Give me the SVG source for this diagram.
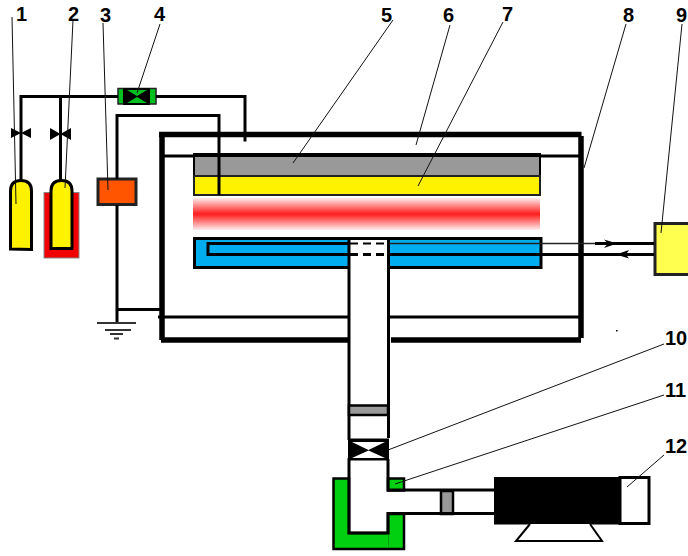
<svg xmlns="http://www.w3.org/2000/svg" width="688" height="556" viewBox="0 0 688 556">
<style>
.l{fill:none;stroke:#000;stroke-width:3}
.t{fill:none;stroke:#000;stroke-width:4}
.w{fill:none;stroke:#000;stroke-width:5.500}
.b{fill:#000;stroke:none}
.s{fill:none;stroke:#111;stroke-width:1}
.g{fill:none;stroke:#333}
text{font-family:"Liberation Sans",Arial,sans-serif;font-weight:bold;font-size:20px;fill:#000}
</style>
<defs>
<linearGradient id="glow" x1="0" y1="0" x2="0" y2="1">
<stop offset="0" stop-color="#ff1c1c" stop-opacity="0.08"/>
<stop offset="0.5" stop-color="#ff1c1c"/>
<stop offset="1" stop-color="#ff1c1c" stop-opacity="0.08"/>
</linearGradient>
</defs>
<rect width="688" height="556" fill="#fff"/>

<g id="node-heater-glow"><rect x="193" y="198" width="347" height="32" fill="url(#glow)"/></g>
<g id="node-5"><rect x="194" y="156" width="346" height="20" fill="#999" stroke="#000" stroke-width="2"/><path d="M193 155H541" class="t"/></g>
<g id="node-7"><rect x="194" y="176" width="346" height="19" fill="#fff200" stroke="#222" stroke-width="2"/></g>
<g id="node-substrate"><rect x="194.500" y="238.500" width="346.500" height="29" fill="#00aeef" stroke="#000" stroke-width="3"/></g>
<g id="node-column"><rect x="349" y="240" width="39" height="200" fill="#fff"/></g>
<g id="node-2-bath"><rect x="44" y="192.500" width="35" height="65.500" fill="#f00000" stroke="#888" stroke-width="1"/></g>
<g id="node-1"><path d="M10.500 249V191Q10.500 180.500 21 180.500Q31.500 180.500 31.500 191V249.500Z" fill="#fff200" stroke="#000" stroke-width="3"/></g>
<g id="node-2"><path d="M51 248.500V191Q51 180.500 61.500 180.500Q72 180.500 72 191V248.500Z" fill="#fff200" stroke="#000" stroke-width="3"/></g>
<g id="node-3"><rect x="98" y="179" width="38" height="25.500" fill="#ff5500" stroke="#222" stroke-width="3"/></g>
<g id="node-9"><rect x="655" y="223.500" width="40" height="51" fill="#ffff50" stroke="#222" stroke-width="3"/></g>
<g id="node-trap">
<path d="M333.500 478.500H349V533H388V514H404V549H333.500Z" fill="#00d010" stroke="#000" stroke-width="2.500"/>
<path d="M388 478.500H404V490.500H388Z" fill="#00d010" stroke="#000" stroke-width="2.500"/>
<path d="M388.500 515V548" stroke="#00a010" stroke-width="1" fill="none"/>
</g>
<g id="node-coupler"><rect x="441" y="491" width="12" height="23" fill="#999" stroke="#000" stroke-width="2.500"/></g>
<g id="node-12"><rect x="620" y="477.500" width="29" height="46" fill="#fff" stroke="#000" stroke-width="3"/></g>
<g id="node-motor"><rect x="494" y="477" width="127" height="47.500" fill="#000"/><path d="M530 524L516 541H602L590 524" fill="#fff" stroke="#000" stroke-width="2"/></g>
<g id="node-4">
<rect x="118" y="88.500" width="38" height="15.500" fill="#00c020" stroke="#222" stroke-width="1.500"/>
<path class="b" d="M123 88H150V105H123Z"/>
<path d="M127 90H147L137 96Z M127 103H147L137 97Z" fill="#00c020"/>
</g>

<g id="connectors">
<path class="l" d="M21 180V96.500H118M156 96.500H245V141.500"/>
<path class="l" d="M60.500 180V96.500"/>
<path class="l" d="M117 179V115.500H219V195"/>
<path class="l" d="M117 205V322M117 309.500H160"/>
<path class="g" stroke-width="2" d="M97 323H136M105 330H131M110 334H123M114 338.500H119"/>

<path class="w" d="M159 134.500H581.500"/>
<path class="w" d="M162 134V340"/>
<path class="w" d="M161 340H348"/>
<path class="w" d="M391 340H581"/>
<path class="w" d="M581 136V338"/>
<path class="l" d="M162 156H194M540 156H581"/>
<path class="l" d="M158 317H348M390 317H581"/>

<path class="l" d="M348 243.500H208V254.500H348"/>
<path class="l" d="M389 254.500H654"/>
<path style="stroke:#222;stroke-width:1.500;fill:none" d="M389 243.500H595"/>
<path class="l" d="M595 243.500H654"/>
<path class="l" style="stroke-dasharray:8 5;stroke-width:2" d="M350 243.500H389"/>
<path class="l" style="stroke-dasharray:8 5;stroke-width:3" d="M350 254.500H389"/>
<path class="b" d="M604 239.500L617 243.500L604 248L608 243.500Z"/>
<path class="b" d="M616 254.500L629 250L626 254.500L629 258.500Z"/>

<path class="l" d="M349 238V440M388.500 238V438"/>
<rect x="349" y="405.500" width="39" height="9.500" fill="#999" stroke="#000" stroke-width="2.500"/>
<path class="l" d="M349 458V533H388V513.500H494M388 459V490H494"/>

<path class="b" d="M11 128L21 133L11 138Z"/><path class="b" d="M31 128L21 133L31 138Z"/>
<path class="b" d="M50 128L60.500 134L50 140Z"/><path class="b" d="M71 128L60.500 134L71 140Z"/>
<path class="b" fill-rule="evenodd" d="M348 438.500H389V460.500H348Z M352 442H385L368.500 450Z M352 458H385L368.500 450.500Z"/>

<path class="s" d="M12 17L16 204"/>
<path class="s" d="M73 20L65 188"/>
<path class="s" d="M103 23L108 190"/>
<path class="s" d="M160 24L137 93"/>
<path class="s" d="M393 20L293 163"/>
<path class="s" d="M450 25L416 145"/>
<path class="s" d="M503 22L418 186"/>
<path class="s" d="M626 24L584 168"/>
<path class="s" d="M682 24L661 233"/>
<path class="s" d="M664 344L388 450"/>
<path class="s" d="M664 395L395 484"/>
<path class="s" d="M664 455L627 487"/>
</g>

<g id="labels">
<text x="16" y="21">1</text>
<text x="68" y="21">2</text>
<text x="100" y="22">3</text>
<text x="154" y="21">4</text>
<text x="381" y="22">5</text>
<text x="443" y="22">6</text>
<text x="502" y="21">7</text>
<text x="623" y="22">8</text>
<text x="676" y="22">9</text>
<text x="665" y="345">10</text>
<text x="665" y="397">11</text>
<text x="665" y="453">12</text>
</g>
<rect x="616" y="330" width="1.500" height="1.500" fill="#000"/>
</svg>
